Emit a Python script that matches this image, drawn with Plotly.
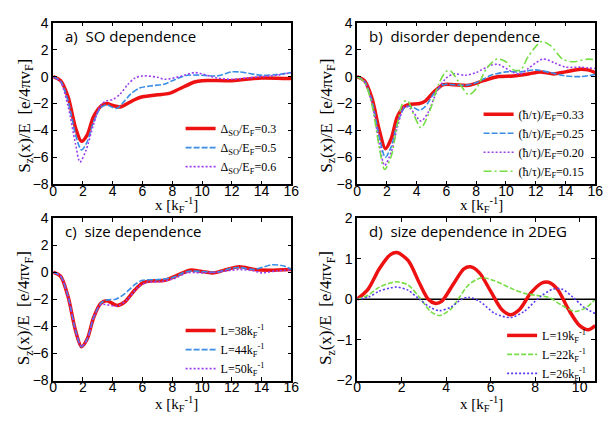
import plotly.graph_objects as go

# The page body has an 8px margin, so the figure is drawn 8px in from the
# window's top-left corner; size it to fit the remaining area.
OFF = 8
W, H = 615 - OFF, 428 - OFF

# ---------------- data ----------------
# panel a) SO dependence
a_red_x = [0, 0.5, 1, 1.5, 1.9, 2.3, 2.7, 3.2, 3.6, 4.0, 4.5, 5.0, 5.5, 6.0, 7.0, 7.8, 8.5, 9.5, 10, 12, 14, 16]
a_red_y = [0, -0.3, -1.5, -3.8, -4.8, -4.3, -3.0, -2.2, -2.0, -2.15, -2.25, -2.0, -1.7, -1.5, -1.35, -1.25, -0.9, -0.4, -0.3, -0.3, -0.1, -0.15]
a_blue_x = [0, 0.5, 1, 1.5, 1.9, 2.3, 2.7, 3.2, 3.6, 4.0, 4.3, 4.8, 5.2, 5.8, 6.5, 7.5, 8.0, 9.0, 10, 11, 12, 12.5, 14, 15, 16]
a_blue_y = [0, -0.35, -1.8, -4.3, -5.45, -4.8, -3.4, -2.3, -2.1, -2.3, -2.35, -1.8, -1.3, -0.85, -0.7, -0.55, -0.3, 0.1, 0.1, 0.05, 0.35, 0.35, 0.1, 0.15, 0.3]
a_purp_x = [0, 0.5, 1, 1.5, 1.8, 2.2, 2.7, 3.2, 3.6, 4.0, 4.5, 5.0, 5.5, 6.0, 7.0, 7.5, 8.5, 9.5, 10, 11, 12, 13, 14, 15, 16]
a_purp_y = [0, -0.4, -2.2, -5.0, -6.35, -5.5, -3.6, -2.1, -1.8, -1.7, -1.3, -0.6, -0.1, 0.05, -0.05, -0.2, 0.0, 0.3, 0.2, -0.1, -0.2, -0.1, 0.0, 0.1, 0.3]
a_names = ["Δ<sub>SO</sub>/E<sub>F</sub>=0.3", "Δ<sub>SO</sub>/E<sub>F</sub>=0.5", "Δ<sub>SO</sub>/E<sub>F</sub>=0.6"]

# panel b) disorder dependence
b_red_x = [0, 0.5, 1, 1.5, 1.9, 2.3, 2.7, 3.2, 3.6, 4.2, 4.6, 5.2, 5.8, 6.5, 7.5, 8.5, 9.5, 10.5, 11.5, 12.3, 13.2, 14, 15, 15.5, 16]
b_red_y = [0, -0.3, -1.6, -4.0, -5.35, -4.6, -3.0, -2.2, -2.05, -2.0, -1.8, -1.1, -0.6, -0.6, -0.65, -0.3, 0.0, 0.05, 0.2, 0.35, 0.2, 0.35, 0.55, 0.5, 0.3]
b_blue_x = [0, 0.5, 1, 1.5, 1.9, 2.3, 2.7, 3.2, 3.6, 4.2, 4.6, 5.2, 5.8, 6.5, 7.3, 8.0, 9.0, 10, 11, 12, 13, 14, 15, 16]
b_blue_y = [0, -0.35, -1.8, -4.5, -6.0, -5.2, -3.5, -2.3, -2.2, -2.5, -2.2, -1.2, -0.6, -0.6, -0.65, -0.45, 0.1, 0.35, 0.35, 0.5, 0.3, 0.05, 0.0, 0.15]
b_purp_x = [0, 0.5, 1, 1.5, 1.85, 2.3, 2.7, 3.2, 3.6, 4.3, 4.8, 5.4, 6.0, 6.5, 7.3, 8.0, 9.0, 9.5, 10.5, 11, 11.5, 12.5, 13.3, 14, 15, 16]
b_purp_y = [0, -0.4, -2.0, -5.0, -6.6, -5.6, -3.8, -2.2, -2.4, -3.3, -2.6, -1.0, -0.1, 0.2, 0.1, 0.3, 0.85, 0.9, 0.3, 0.2, 0.6, 1.3, 1.0, 0.7, 0.7, 0.6]
b_green_x = [0, 0.5, 1, 1.5, 1.85, 2.3, 2.7, 3.1, 3.4, 3.8, 4.3, 4.9, 5.5, 6.0, 6.3, 7.0, 7.5, 8.0, 8.7, 9.4, 10, 10.5, 11, 11.5, 12.4, 13, 13.8, 14.5, 15.5, 16]
b_green_y = [0, -0.4, -2.1, -5.3, -6.9, -5.9, -3.6, -1.9, -1.8, -2.8, -3.8, -2.5, -0.5, 0.4, 0.4, -0.7, -1.35, -0.9, 0.6, 1.3, 1.1, 0.5, 0.5, 1.5, 2.6, 2.3, 1.3, 1.1, 1.3, 1.25]
b_names = ["(ħ/τ)/E<sub>F</sub>=0.33", "(ħ/τ)/E<sub>F</sub>=0.25", "(ħ/τ)/E<sub>F</sub>=0.20", "(ħ/τ)/E<sub>F</sub>=0.15"]

# panel c) size dependence
c_red_x = [0, 0.5, 1, 1.5, 1.9, 2.3, 2.7, 3.2, 3.6, 4.3, 4.8, 5.5, 6.0, 6.5, 7.5, 8.5, 9.2, 10, 10.8, 11.5, 12.5, 13.5, 14.5, 16]
c_red_y = [0, -0.3, -1.8, -4.3, -5.5, -4.9, -3.4, -2.3, -2.1, -2.45, -2.2, -1.3, -0.8, -0.65, -0.6, -0.15, 0.15, 0.05, -0.05, 0.15, 0.4, 0.2, 0.15, 0.2]
c_blue_x = [0, 0.5, 1, 1.5, 1.9, 2.3, 2.7, 3.2, 3.6, 4.2, 4.8, 5.5, 6.0, 7.0, 8.0, 9.0, 10, 11, 12, 12.5, 13.5, 14.7, 15.5, 16]
c_blue_y = [0, -0.3, -1.8, -4.3, -5.5, -4.9, -3.4, -2.3, -2.05, -2.0, -1.6, -0.9, -0.6, -0.55, -0.4, 0.05, 0.05, 0.0, 0.3, 0.35, 0.2, 0.55, 0.45, 0.2]
c_purp_x = [0, 0.5, 1, 1.5, 1.9, 2.3, 2.7, 3.2, 3.6, 4.3, 5.0, 5.7, 6.3, 7.2, 8.2, 9.0, 10, 11, 12, 12.5, 13.5, 14, 15, 16]
c_purp_y = [0, -0.3, -1.8, -4.3, -5.5, -4.9, -3.4, -2.4, -2.4, -2.5, -2.0, -1.1, -0.75, -0.7, -0.45, -0.05, -0.05, 0.0, 0.15, 0.2, 0.1, -0.05, 0.1, 0.15]
c_names = ["L=38k<sub>F</sub><sup>-1</sup>", "L=44k<sub>F</sub><sup>-1</sup>", "L=50k<sub>F</sub><sup>-1</sup>"]

# panel d) size dependence in 2DEG
d_red_x = [0, 0.5, 1, 1.5, 1.8, 2.3, 2.8, 3.2, 3.5, 3.8, 4.3, 4.8, 5.1, 5.5, 6.0, 6.5, 6.9, 7.3, 7.8, 8.3, 8.6, 9.0, 9.5, 10, 10.4, 10.7]
d_red_y = [0, 0.25, 0.75, 1.1, 1.15, 0.95, 0.4, 0.0, -0.1, -0.05, 0.35, 0.75, 0.8, 0.65, 0.2, -0.25, -0.38, -0.25, 0.15, 0.4, 0.42, 0.25, -0.25, -0.65, -0.75, -0.65]
d_green_x = [0, 0.5, 1, 1.5, 1.8, 2.3, 2.8, 3.3, 3.7, 4.2, 4.6, 5.0, 5.6, 6.2, 7.0, 7.5, 8.0, 8.6, 9.2, 9.8, 10.3, 10.7]
d_green_y = [0, 0.1, 0.3, 0.4, 0.43, 0.35, 0.05, -0.3, -0.4, -0.25, 0.05, 0.35, 0.53, 0.45, 0.25, 0.15, 0.1, 0.05, -0.15, -0.3, -0.2, 0.0]
d_purp_x = [0, 0.5, 1, 1.5, 1.8, 2.3, 2.8, 3.3, 3.7, 4.2, 4.7, 5.0, 5.5, 6.2, 6.9, 7.5, 8.2, 8.8, 9.2, 9.7, 10.2, 10.7]
d_purp_y = [0, 0.05, 0.2, 0.28, 0.3, 0.22, 0.0, -0.2, -0.28, -0.2, 0.0, 0.05, -0.05, -0.35, -0.45, -0.3, 0.05, 0.25, 0.25, 0.05, -0.2, -0.35]
d_names = ["L=19k<sub>F</sub><sup>-1</sup>", "L=22k<sub>F</sub><sup>-1</sup>", "L=26k<sub>F</sub><sup>-1</sup>"]
d_zero_x = [0, 10.7]
d_zero_y = [0, 0]

panel_titles = ["a)  SO dependence", "b)  disorder dependence", "c)  size dependence", "d)  size dependence in 2DEG"]
x_ticks_16 = [0, 2, 4, 6, 8, 10, 12, 14, 16]
y_ticks_8 = [-8, -6, -4, -2, 0, 2, 4]
x_ticks_d = [0, 2, 4, 6, 8, 10]
y_ticks_d = [-2, -1, 0, 1, 2]

# ---------------- styles ----------------
RED = "#ee1111"
BLUE = "#3a8ee6"
PURPLE = "#9a3ff0"
GREEN = "#77dd44"
D_PURPLE = "#5a3cf0"
SERIF = "Liberation Serif"
SANS = "Liberation Sans"
TITLE_SANS = "Open Sans"
DASH_BLUE = "6px,2px"
DOT = "2px,2px"
DASHDOT_GREEN = "8px,3px,2px,3px"
DASH_GREEN_D = "5px,2px"

fig = go.Figure()

def px_x(p):
    # p: pixel in the 615x428 window
    return (p - OFF) / W

def px_y(p):
    return 1 - (p - OFF) / H

# panel pixel boxes in window pixels: (left, right, top, bottom)
boxes = {
    1: (50, 293, 15, 183),
    2: (360, 603, 15, 183),
    3: (50, 293, 218, 387),
    4: (360, 603, 218, 387),
}

def add(xs, ys, name, color, width, dash, k, legend):
    fig.add_trace(go.Scatter(
        x=xs, y=ys, name=name, mode="lines",
        line=dict(color=color, width=width, dash=dash, shape="spline", smoothing=0.8),
        xaxis="x" if k == 1 else f"x{k}", yaxis="y" if k == 1 else f"y{k}",
        legend=legend, showlegend=name is not None,
    ))

add(a_red_x, a_red_y, a_names[0], RED, 3.5, "solid", 1, "legend")
add(a_blue_x, a_blue_y, a_names[1], BLUE, 1.6, DASH_BLUE, 1, "legend")
add(a_purp_x, a_purp_y, a_names[2], PURPLE, 1.6, DOT, 1, "legend")

add(b_red_x, b_red_y, b_names[0], RED, 3.5, "solid", 2, "legend2")
add(b_blue_x, b_blue_y, b_names[1], BLUE, 1.6, DASH_BLUE, 2, "legend2")
add(b_purp_x, b_purp_y, b_names[2], PURPLE, 1.6, DOT, 2, "legend2")
add(b_green_x, b_green_y, b_names[3], GREEN, 1.6, DASHDOT_GREEN, 2, "legend2")

add(c_red_x, c_red_y, c_names[0], RED, 3.5, "solid", 3, "legend3")
add(c_blue_x, c_blue_y, c_names[1], BLUE, 1.6, DASH_BLUE, 3, "legend3")
add(c_purp_x, c_purp_y, c_names[2], PURPLE, 1.6, DOT, 3, "legend3")

add(d_zero_x, d_zero_y, None, "black", 1.5, "solid", 4, "legend4")
add(d_red_x, d_red_y, d_names[0], RED, 3.5, "solid", 4, "legend4")
add(d_green_x, d_green_y, d_names[1], GREEN, 1.6, DASH_GREEN_D, 4, "legend4")
add(d_purp_x, d_purp_y, d_names[2], D_PURPLE, 1.6, DOT, 4, "legend4")

xt = "x [k<sub>F</sub><sup>-1</sup>]"
ytitle = "S<sub>z</sub>(x)/E  [e/4πv<sub>F</sub>]"

layout = dict(
    width=W, height=H, margin=dict(l=0, r=0, t=0, b=0),
    paper_bgcolor="white", plot_bgcolor="white",
    font=dict(family=SANS, size=14, color="black"),
)

for k, (l, r, t, b) in boxes.items():
    xs = "xaxis" if k == 1 else f"xaxis{k}"
    ys = "yaxis" if k == 1 else f"yaxis{k}"
    if k == 4:
        xr, yr, xtv, ytv = [0, 10.7], [-2, 2], x_ticks_d, y_ticks_d
    else:
        xr, yr, xtv, ytv = [0, 16], [-8, 4], x_ticks_16, y_ticks_8
    common = dict(showgrid=False, zeroline=False, showline=True, linecolor="black", linewidth=1.5,
                  mirror="allticks", ticks="inside", ticklen=4, tickwidth=1, tickcolor="black",
                  tickfont=dict(family=SANS, size=14, color="black"))
    layout[xs] = dict(domain=[px_x(l), px_x(r)], range=xr, tickvals=xtv,
                      anchor="y" if k == 1 else f"y{k}", ticklabelstandoff=-7, **common)
    layout[ys] = dict(domain=[px_y(b), px_y(t)], range=yr, tickvals=ytv,
                      anchor="x" if k == 1 else f"x{k}", **common)

# legends
leg_common = dict(bgcolor="rgba(0,0,0,0)", font=dict(family=SERIF, size=12, color="black"),
                  xanchor="left", yanchor="top", tracegroupgap=0, itemwidth=30)
layout["legend"] = dict(x=px_x(180), y=px_y(110), **leg_common)
layout["legend2"] = dict(x=px_x(484), y=px_y(95), **leg_common)
layout["legend3"] = dict(x=px_x(180), y=px_y(320), **leg_common)
layout["legend4"] = dict(x=px_x(508), y=px_y(325), **leg_common)

fig.update_layout(**layout)

annotations = []
title_pos = [(60, 29), (370, 29), (60, 232), (370, 232)]
for txt, (x, y) in zip(panel_titles, title_pos):
    annotations.append(dict(text=txt, x=px_x(x), y=px_y(y), xref="paper", yref="paper",
                            xanchor="left", yanchor="middle", showarrow=False,
                            font=dict(family=TITLE_SANS, size=15, color="black")))
for x, y in [(22, 112), (330, 112), (22, 312), (330, 312)]:
    annotations.append(dict(text=ytitle, x=px_x(x), y=px_y(y), xref="paper", yref="paper",
                            xanchor="center", yanchor="middle", showarrow=False, textangle=-90,
                            font=dict(family=SERIF, size=17, color="black")))
for x, y in [(176, 204), (487, 204), (176, 411), (487, 411)]:
    annotations.append(dict(text=xt, x=px_x(x), y=px_y(y), xref="paper", yref="paper",
                            xanchor="center", yanchor="middle", showarrow=False,
                            font=dict(family=SERIF, size=15, color="black")))
fig.update_layout(annotations=annotations)

fig.write_html("out.html")
